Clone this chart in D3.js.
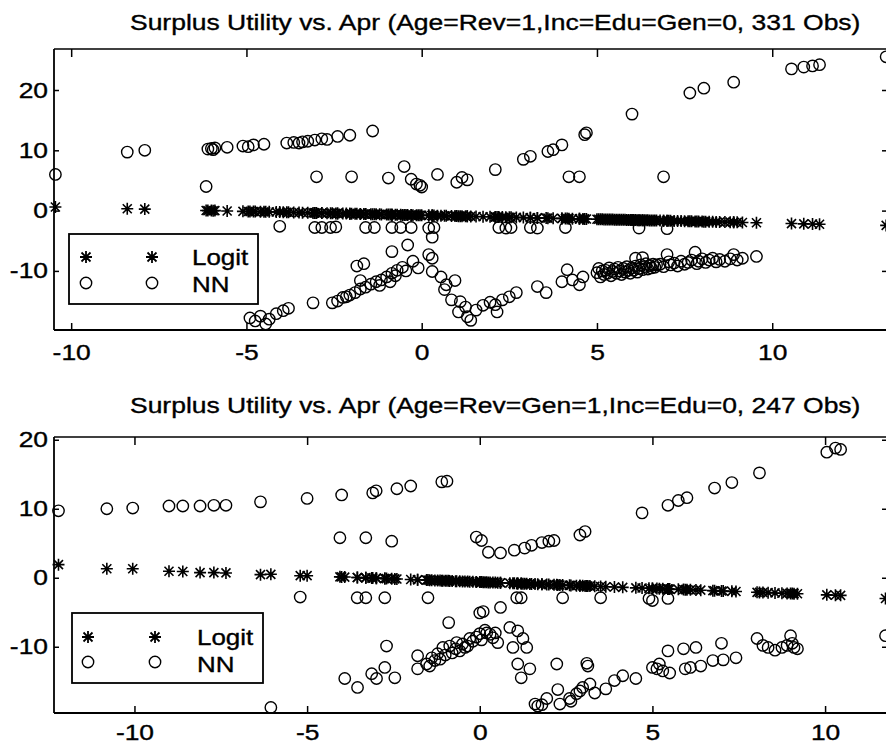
<!DOCTYPE html>
<html><head><meta charset="utf-8">
<script src="https://cdn.jsdelivr.net/npm/d3@7"></script>
<style>
body{margin:0;background:#fff}
svg{display:block}
text{font-family:"Liberation Sans",Arial,Helvetica,sans-serif;fill:#000;stroke:#000;stroke-width:0.35px}
</style>
</head><body>
<svg id="chart" width="886" height="750"></svg>
<script>
// ---------- Panel 1 data (Age=Rev=1, Inc=Edu=Gen=0) ----------
const apr1 = [
 -10.45,-8.4,-7.9,-6.15,-6.1,-6.0,-5.95,-5.9,-5.55,-5.1,-4.95,-4.8,-4.5,-3.85,-3.65,-3.5,-3.4,-3.25,-3.05,-2.85,-2.7,-2.4,-2.05,-1.4,
 -3.0,-2.0,-0.95,-0.5,-0.3,-0.15,-0.05,0.0,0.45,1.0,1.15,1.3,2.1,4.2,4.5,6.9,
 2.9,3.1,3.6,3.75,4.0,4.65,4.7,6.0,7.65,8.05,8.9,10.55,10.9,11.15,11.35,13.25,
 -4.05,-3.05,-2.85,-2.6,-2.45,-1.6,-1.35,-0.85,-0.6,-0.3,0.2,0.35,2.2,2.4,2.55,3.1,3.3,4.1,6.2,7.0,
 -4.9,-4.75,-4.6,-4.45,-4.35,-4.15,-3.95,-3.8,-3.1,-2.55,-2.4,-2.25,-2.15,-2.05,-1.9,-1.85,-1.75,-1.75,-1.65,-1.6,
 -1.45,-1.3,-1.2,-1.15,-1.0,-0.9,-0.85,-0.85,-0.75,-0.7,-0.55,-0.45,-0.4,-0.25,-0.1,0.2,0.3,0.3,0.3,0.55,
 0.65,0.7,0.85,0.95,1.05,1.1,1.25,1.3,1.4,1.55,1.75,1.95,2.1,2.15,2.3,2.5,2.7,3.3,3.55,4.0,4.15,4.3,4.5,4.6,
 5.0,5.05,5.1,5.15,5.2,5.25,5.3,5.35,5.4,5.45,5.5,5.55,5.6,5.65,5.7,5.75,5.8,5.85,5.9,5.95,
 6.0,6.05,6.1,6.1,6.15,6.2,6.25,6.3,6.3,6.35,6.4,6.45,6.5,6.55,6.6,6.65,6.7,
 6.8,6.9,7.0,7.05,7.1,7.2,7.3,7.4,7.5,7.6,7.7,7.8,7.85,7.9,8.0,8.1,8.2,8.3,8.4,8.5,8.65,8.8,8.9,9.0,9.15,9.55
];
const logit1 = [
 0.6,0.3,0.25,0.02,0.0,0.0,-0.02,0.0,-0.06,-0.12,-0.14,-0.15,-0.2,-0.28,-0.31,-0.33,-0.34,-0.36,-0.38,-0.41,-0.43,-0.47,-0.51,-0.6,
 -0.39,-0.52,-0.66,-0.72,-0.74,-0.76,-0.77,-0.78,-0.84,-0.91,-0.93,-0.95,-1.05,-1.33,-1.37,-1.68,
 -1.16,-1.18,-1.25,-1.27,-1.3,-1.38,-1.39,-1.56,-1.77,-1.83,-1.94,-2.15,-2.2,-2.23,-2.26,-2.45,
 -0.25,-0.38,-0.41,-0.44,-0.46,-0.57,-0.6,-0.67,-0.7,-0.74,-0.81,-0.83,-1.07,-1.09,-1.11,-1.18,-1.21,-1.31,-1.59,-1.69,
 -0.14,-0.16,-0.18,-0.2,-0.21,-0.24,-0.27,-0.29,-0.38,-0.45,-0.47,-0.49,-0.5,-0.51,-0.53,-0.54,-0.55,-0.55,-0.57,-0.57,
 -0.59,-0.61,-0.62,-0.63,-0.65,-0.66,-0.67,-0.67,-0.68,-0.69,-0.71,-0.72,-0.73,-0.75,-0.77,-0.81,-0.82,-0.82,-0.82,-0.85,
 -0.86,-0.87,-0.89,-0.9,-0.92,-0.92,-0.94,-0.95,-0.96,-0.98,-1.01,-1.03,-1.05,-1.06,-1.08,-1.1,-1.13,-1.21,-1.24,-1.3,-1.32,-1.34,-1.37,-1.38,
 -1.43,-1.44,-1.44,-1.45,-1.46,-1.46,-1.47,-1.48,-1.48,-1.49,-1.5,-1.5,-1.51,-1.51,-1.52,-1.53,-1.53,-1.54,-1.55,-1.55,
 -1.56,-1.57,-1.57,-1.57,-1.58,-1.59,-1.59,-1.6,-1.6,-1.61,-1.61,-1.62,-1.63,-1.63,-1.64,-1.64,-1.65,
 -1.66,-1.68,-1.69,-1.7,-1.7,-1.72,-1.73,-1.74,-1.76,-1.77,-1.78,-1.79,-1.8,-1.81,-1.82,-1.83,-1.85,-1.86,-1.87,-1.89,-1.9,-1.92,-1.94,-1.95,-1.97,-2.02
];
const nn1 = [
 6.0,9.7,10.0,4.0,10.2,10.3,10.1,10.4,10.5,10.7,10.6,10.9,11.0,11.2,11.3,11.2,11.4,11.5,11.7,11.9,11.8,12.3,12.5,13.2,
 5.6,5.6,5.4,7.3,5.2,4.4,4.2,3.9,6.0,4.7,5.5,5.1,6.8,5.6,5.6,5.6,
 8.5,9.0,9.8,10.1,10.9,12.6,12.9,16.0,19.5,20.3,21.3,23.5,23.8,24.0,24.2,25.5,
 -2.6,-2.8,-2.8,-2.8,-2.7,-2.8,-2.8,-2.8,-2.8,-2.8,-2.9,-2.8,-2.8,-2.9,-2.8,-2.8,-2.9,-2.8,-2.9,-3.0,
 -17.8,-18.3,-17.5,-18.8,-18.0,-17.1,-16.6,-16.2,-15.3,-15.3,-15.0,-14.4,-14.3,-14.0,-13.6,-9.2,-13.0,-11.6,-8.8,-12.7,
 -12.2,-11.8,-12.4,-11.5,-11.0,-11.8,-10.4,-6.8,-10.8,-9.9,-9.4,-10.0,-5.7,-8.4,-9.5,-7.3,-7.9,-4.4,-10.1,-11.0,
 -13.1,-12.3,-14.8,-11.6,-16.8,-15.1,-16.0,-17.6,-18.2,-16.5,-15.7,-15.2,-15.6,-16.8,-14.8,-14.3,-13.6,-12.6,-13.6,-11.8,-9.8,-11.5,-12.3,-11.0,
 -10.3,-9.6,-11.0,-10.0,-10.6,-9.9,-10.4,-9.5,-10.8,-10.1,-9.7,-10.4,-9.4,-10.0,-10.6,-9.6,-10.2,-9.3,-9.9,-10.4,
 -9.5,-9.9,-7.9,-9.2,-10.2,-9.6,-9.0,-7.8,-9.8,-9.3,-8.8,-9.7,-9.1,-9.5,-8.9,-9.4,-9.0,
 -8.9,-9.3,-7.3,-8.5,-9.0,-8.7,-9.2,-8.4,-8.9,-8.6,-8.2,-6.9,-8.8,-8.4,-8.0,-8.6,-8.2,-7.9,-8.5,-8.1,-8.4,-8.0,-7.3,-8.2,-7.9,-7.6
];

// ---------- Panel 2 data (Age=Rev=Gen=1, Inc=Edu=0) ----------
const apr2 = [
 -12.2,-10.8,-10.05,-9.0,-8.6,-8.1,-7.7,-7.35,-6.35,-5.0,-4.0,-3.1,-3.0,-2.4,-2.0,-1.1,-0.95,
 4.7,5.45,5.75,6.0,6.8,7.3,8.1,10.05,10.3,10.45,
 -4.05,-3.3,-2.55,-0.1,0.05,0.25,0.6,1.0,1.3,1.5,1.8,2.0,2.15,2.9,3.05,
 -6.05,-5.2,-3.55,-3.3,-2.75,-1.5,-0.9,0.0,0.1,0.6,1.07,1.2,2.4,3.5,4.9,5.0,5.45,11.75,
 -3.91,-3.54,-3.13,-2.99,-2.75,-2.7,-2.46,-1.8,-1.8,-1.54,-1.45,-1.39,-1.3,-1.22,-1.15,-1.07,-1.0,-0.87,-0.8,-0.7,
 -0.67,-0.58,-0.5,-0.43,-0.35,-0.29,-0.2,-0.1,0.0,0.05,0.15,0.2,0.3,0.38,0.45,0.52,0.87,0.96,1.1,1.25,1.36,1.1,1.45,1.2,2.23,
 1.6,1.68,1.8,1.94,2.26,2.32,2.6,2.64,2.8,2.9,2.98,3.1,3.13,3.19,3.33,3.65,3.9,4.14,4.52,5.0,5.13,5.2,
 5.3,5.5,5.45,5.9,6.26,5.95,6.1,6.4,6.75,7.0,7.05,7.42,8.03,8.2,8.35,8.55,8.75,8.9,9.0,9.05,9.1,9.2
];
const logit2 = [
 1.9,1.3,1.3,0.95,0.9,0.75,0.75,0.7,0.45,0.3,0.12,-0.05,-0.06,-0.18,-0.25,-0.42,-0.44,
 -1.49,-1.63,-1.68,-1.73,-1.88,-1.97,-2.12,-2.48,-2.53,-2.55,
 0.13,-0.01,-0.15,-0.6,-0.63,-0.67,-0.73,-0.8,-0.86,-0.9,-0.95,-0.99,-1.02,-1.16,-1.18,
 0.5,0.3,0.04,-0.01,-0.11,-0.34,-0.45,-0.62,-0.64,-0.73,-0.82,-0.84,-1.06,-1.27,-1.53,-1.55,-1.63,-3.0,
 0.1,0.03,-0.04,-0.07,-0.11,-0.12,-0.17,-0.29,-0.29,-0.34,-0.35,-0.36,-0.38,-0.39,-0.41,-0.42,-0.44,-0.46,-0.47,-0.49,
 -0.5,-0.51,-0.53,-0.54,-0.56,-0.57,-0.58,-0.6,-0.62,-0.63,-0.65,-0.66,-0.68,-0.69,-0.7,-0.72,-0.78,-0.8,-0.82,-0.85,-0.87,-0.82,-0.89,-0.84,-1.03,
 -0.92,-0.93,-0.95,-0.98,-1.04,-1.05,-1.1,-1.11,-1.14,-1.16,-1.17,-1.19,-1.2,-1.21,-1.24,-1.3,-1.34,-1.39,-1.46,-1.55,-1.57,-1.58,
 -1.6,-1.64,-1.63,-1.71,-1.78,-1.72,-1.75,-1.8,-1.87,-1.92,-1.92,-1.99,-2.11,-2.14,-2.16,-2.2,-2.24,-2.27,-2.29,-2.29,-2.3,-2.32
];
const nn2 = [
 9.7,10.0,10.1,10.4,10.4,10.4,10.5,10.5,11.0,11.5,12.0,12.3,12.6,12.9,13.3,13.9,14.0,
 9.4,10.5,11.2,11.6,13.0,13.8,15.2,18.2,18.8,18.6,
 5.8,5.8,5.3,5.9,5.4,3.7,3.6,4.0,4.3,4.7,5.1,5.3,5.4,6.2,6.7,
 -18.8,-2.8,-2.9,-2.9,-2.9,-2.9,-6.5,-5.1,-4.9,-4.3,-2.9,-2.9,-2.9,-2.9,-3.0,-3.3,-3.0,-8.4,
 -14.6,-15.9,-13.9,-14.6,-13.0,-9.9,-14.5,-11.3,-13.2,-12.5,-12.8,-11.6,-12.0,-11.0,-11.8,-10.1,-11.2,-9.9,-10.9,-10.3,
 -9.4,-10.6,-9.6,-10.1,-9.9,-8.8,-9.2,-8.6,-8.1,-9.0,-7.6,-8.0,-8.2,-8.7,-8.0,-9.4,-7.2,-10.1,-7.7,-8.8,-10.1,-12.5,-13.2,-14.5,-12.5,
 -18.3,-18.6,-18.4,-17.5,-16.2,-18.3,-17.5,-17.9,-16.8,-16.4,-15.9,-12.4,-12.8,-15.4,-16.7,-16.1,-14.9,-14.2,-14.6,-13.0,-13.2,-12.5,
 -13.5,-13.8,-10.6,-10.3,-10.1,-13.2,-13.0,-12.8,-12.0,-9.5,-11.9,-11.6,-8.8,-9.8,-10.1,-10.5,-10.1,-9.8,-8.4,-9.5,-10.1,-10.3
];

// ---------- labels / ticks ----------
const titles = [
  "Surplus Utility vs. Apr (Age=Rev=1,Inc=Edu=Gen=0, 331 Obs)",
  "Surplus Utility vs. Apr (Age=Rev=Gen=1,Inc=Edu=0, 247 Obs)"
];
const xTicks = [-10, -5, 0, 5, 10];
const yTicks1 = [-10, 0, 10, 20];
const yTicks2 = [-10, 0, 10, 20];
const legendLabels = ["Logit", "NN"];

// ---------- layout ----------
const panels = [
  {apr: apr1, logit: logit1, nn: nn1, title: titles[0], yTicks: yTicks1,
   xDom: [-10.49, 13.36], yDom: [-19.8, 26.8],
   box: {l: 54, r: 890, t: 49, b: 330}, titleY: 30, labelPad: 14,
   legend: {x: 69, y: 234, w: 189, h: 70, r1: 257, r2: 283, m1: 86, m2: 152, tx: 192, b1: 265, b2: 292}},
  {apr: apr2, logit: logit2, nn: nn2, title: titles[1], yTicks: yTicks2,
   xDom: [-12.33, 11.88], yDom: [-19.6, 20.4],
   box: {l: 54, r: 890, t: 437, b: 713}, titleY: 413, labelPad: 11,
   legend: {x: 72, y: 613, w: 191, h: 70, r1: 637, r2: 662, m1: 88, m2: 155, tx: 197, b1: 645, b2: 672}}
];

const svg = d3.select("#chart");
const SX = 1.2;        // horizontal stretch of the scanned lettering
const FS = 22;

function starPath(x, y) {
  const r = 6, d = 4.5;
  return `M${x-r},${y}H${x+r}M${x},${y-r}V${y+r}M${x-d},${y-d}L${x+d},${y+d}M${x-d},${y+d}L${x+d},${y-d}`;
}

panels.forEach(p => {
  const x = d3.scaleLinear().domain(p.xDom).range([p.box.l, p.box.r]);
  const y = d3.scaleLinear().domain(p.yDom).range([p.box.b, p.box.t]);
  const g = svg.append("g");

  // title
  const tg = g.append("g").attr("transform", `translate(130,${p.titleY})`);
  const tt = tg.append("text").attr("font-size", 22).text(p.title);
  const len = tt.node().getComputedTextLength();
  tt.attr("transform", `scale(${731 / len},1)`);

  // frame
  g.append("line").attr("x1", p.box.l).attr("x2", p.box.r).attr("y1", p.box.t).attr("y2", p.box.t)
    .attr("stroke", "#000").attr("stroke-width", 1.6);
  g.append("line").attr("x1", p.box.l).attr("x2", p.box.r).attr("y1", p.box.b).attr("y2", p.box.b)
    .attr("stroke", "#000").attr("stroke-width", 2.2);
  g.append("line").attr("x1", p.box.l).attr("x2", p.box.l).attr("y1", p.box.t).attr("y2", p.box.b)
    .attr("stroke", "#000").attr("stroke-width", 1.8);

  // axes
  const ax = g.append("g").attr("transform", `translate(0,${p.box.b})`)
    .call(d3.axisBottom(x).tickValues(xTicks).tickSizeInner(-7).tickSizeOuter(0).tickPadding(p.labelPad).tickFormat(d3.format("d")));
  const axT = g.append("g").attr("transform", `translate(0,${p.box.t})`)
    .call(d3.axisTop(x).tickValues(xTicks).tickSizeInner(-8).tickSizeOuter(0).tickFormat(""));
  const ay = g.append("g").attr("transform", `translate(${p.box.l},0)`)
    .call(d3.axisLeft(y).tickValues(p.yTicks).tickSizeInner(-5).tickSizeOuter(0).tickPadding(6).tickFormat(d3.format("d")));
  const ayR = g.append("g").attr("transform", `translate(${p.box.r},0)`)
    .call(d3.axisRight(y).tickValues(p.yTicks).tickSizeInner(-8).tickSizeOuter(0).tickFormat(""));
  [ax, axT, ay, ayR].forEach(a => {
    a.select(".domain").remove();
    a.selectAll(".tick line").attr("stroke", "#000").attr("stroke-width", 1.5);
    a.selectAll("text").attr("font-size", FS).attr("font-family", "Liberation Sans, Arial, sans-serif").attr("fill", "#000");
  });
  ax.selectAll("text").attr("transform", `scale(${SX},1)`);
  ay.selectAll("text").attr("transform", `scale(${SX},1)`).attr("x", -6 / SX);
  ax.selectAll("text").text(d => d < 0 ? "-" + Math.abs(d) : d);
  ay.selectAll("text").text(d => d < 0 ? "-" + Math.abs(d) : d);

  // Logit stars
  g.append("g").selectAll("path").data(p.apr).join("path")
    .attr("d", (d, i) => starPath(x(d), y(p.logit[i])))
    .attr("stroke", "#000").attr("stroke-width", 1.6).attr("fill", "none");
  // NN circles
  g.append("g").selectAll("circle").data(p.apr).join("circle")
    .attr("cx", d => x(d)).attr("cy", (d, i) => y(p.nn[i])).attr("r", 5.7)
    .attr("stroke", "#000").attr("stroke-width", 1.4).attr("fill", "none");

  // legend
  const L = p.legend;
  g.append("rect").attr("x", L.x).attr("y", L.y).attr("width", L.w).attr("height", L.h)
    .attr("fill", "#fff").attr("stroke", "#000").attr("stroke-width", 1.8);
  [L.m1, L.m2].forEach(mx => {
    g.append("path").attr("d", starPath(mx, L.r1)).attr("stroke", "#000").attr("stroke-width", 1.8).attr("fill", "none");
    g.append("circle").attr("cx", mx).attr("cy", L.r2).attr("r", 5.7).attr("stroke", "#000").attr("stroke-width", 1.4).attr("fill", "none");
  });
  [[legendLabels[0], L.b1], [legendLabels[1], L.b2]].forEach(([t, b]) => {
    g.append("g").attr("transform", `translate(${L.tx},${b})`)
      .append("text").attr("font-size", 22).attr("transform", `scale(1.18,1)`).text(t);
  });
});
</script>
</body></html>
